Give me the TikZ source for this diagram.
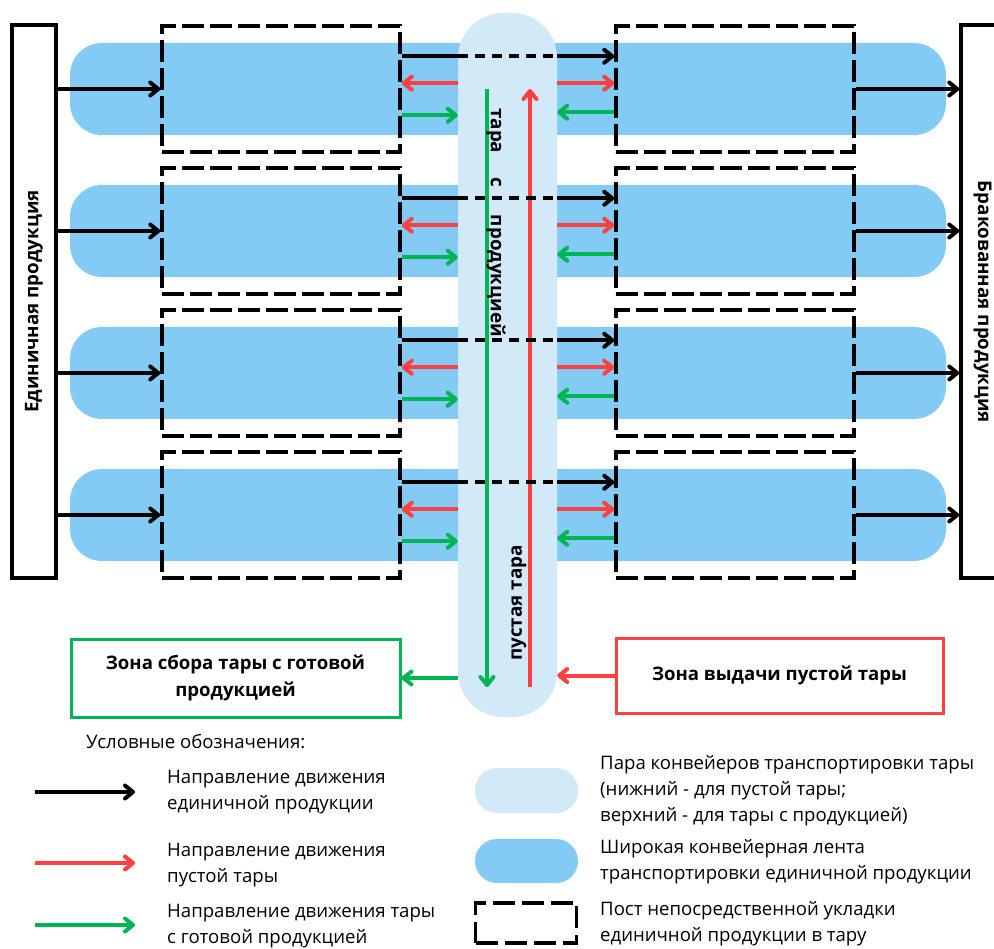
\documentclass[tikz,border=0pt]{standalone}
\usepackage{fontspec}
\setmainfont{Open Sans}
\usetikzlibrary{arrows.meta}
\definecolor{beltblue}{HTML}{83CBF5}
\definecolor{stripblue}{HTML}{D2E9F7}
\definecolor{myred}{HTML}{FF4040}
\definecolor{mygreen}{HTML}{00B554}
\begin{document}
\begin{tikzpicture}[x=1pt,y=-1pt,
  every node/.style={font=\fontsize{18.6pt}{26pt}\selectfont},
  arr/.style={line width=4pt,-{Straight Barb[length=8pt,width=13pt,round]}},
  blk/.style={arr,draw=black},
  redarr/.style={arr,draw=myred},
  grnarr/.style={arr,draw=mygreen},
  beltbox/.style={fill=beltblue, minimum width=876pt, minimum height=92pt, rounded corners=32pt, inner sep=0pt},
  stripbox/.style={fill=stripblue, minimum width=99pt, minimum height=704pt, rounded corners=45pt, inner sep=0pt},
  postbox/.style={draw, line width=3.5pt, dash pattern=on 22pt off 6pt, minimum width=238pt, minimum height=126pt, inner sep=0pt},
  sidebox/.style={draw, line width=3.5pt, minimum width=44pt, minimum height=553pt, inner sep=0pt},
  zone/.style={line width=3pt, inner sep=0pt, align=center, font=\fontsize{18.6pt}{26.5pt}\selectfont\bfseries},
  vlabel/.style={font=\fontsize{18.8pt}{20pt}\selectfont\bfseries, inner sep=0pt},
  legtext/.style={anchor=west, align=left, inner sep=0pt}
]
\useasboundingbox (0,0) rectangle (994,949);

% side boxes
\node[sidebox] (lbox) at (34,301.5) {};
\node[vlabel, rotate=90] (ltext) at (lbox.center) {Единичная продукция};
\node[sidebox] (rbox) at (983,301.5) {};
\node[vlabel, rotate=-90] (rtext) at (982.5,302) {Бракованная продукция};

% belts
\foreach \i/\y in {1/89,2/231,3/373,4/515} {
  \node[beltbox] (belt\i) at (508,\y) {};
}
% strip
\node[stripbox] (strip) at (507.5,365) {};

% posts
\foreach \i/\y in {1/89,2/231,3/373,4/515} {
  \node[postbox] (L\i) at (281,\y) {};
  \node[postbox] (R\i) at (735,\y) {};
}

% vertical conveyors
\coordinate (gtop) at (487,89);
\coordinate (gbot) at (487,687);
\coordinate (rbot) at (530,687);
\coordinate (rtop) at (530,89);
\draw[grnarr] (gtop) -- (gbot);
\draw[redarr] (rbot) -- (rtop);

\node[vlabel, rotate=-90] (tlabel) at (496,222.5) {тара\hspace{24pt}с\hspace{28pt}продукцией};
\node[vlabel, rotate=90] (plabel) at (519,603) {пустая тара};

% row arrows
\foreach \i in {1,2,3,4} {
  \draw[blk] (L\i.west -| lbox.east) -- (L\i.west);
  \draw[blk] (R\i.east) -- (R\i.east -| rbox.west);
  \draw[line width=4pt] ([yshift=-32pt]L\i.north east) -- ([yshift=-32pt]L\i.north east -| strip.west);
  \draw[line width=4pt, dash pattern=on 10pt off 7pt] ([yshift=-32pt]L\i.north east -| strip.west) -- ([yshift=-32pt]L\i.north east -| strip.east);
  \draw[blk] ([yshift=-32pt]L\i.north east -| strip.east) -- ([yshift=-32pt]R\i.north west);
  \draw[redarr] ([yshift=-59pt]L\i.north east -| strip.west) -- ([yshift=-59pt]L\i.north east);
  \draw[grnarr] ([yshift=-91pt]L\i.north east) -- ([yshift=-91pt]L\i.north east -| strip.west);
  \draw[redarr] ([yshift=-59pt]R\i.north west -| strip.east) -- ([yshift=-59pt]R\i.north west);
  \draw[grnarr] ([yshift=-88pt]R\i.north west) -- ([yshift=-88pt]R\i.north west -| strip.east);
}

% zones
\node[zone, draw=mygreen, minimum width=329pt, minimum height=78pt] (gz) at (235.5,678) {Зона сбора тары с готовой\\продукцией};
\node[zone, draw=myred, minimum width=327pt, minimum height=75pt] (rz) at (779.5,675.5) {Зона выдачи пустой тары};
\draw[grnarr] (gz.east -| strip.west) -- (gz.east);
\draw[redarr] (rz.west) -- (rz.west -| strip.east);

% legend
\node[legtext] (legtitle) at (86,742) {Условные обозначения:};
\coordinate (la1) at (35,792); \coordinate (lb1) at (135,792);
\coordinate (la2) at (35,863); \coordinate (lb2) at (135,863);
\coordinate (la3) at (35,925); \coordinate (lb3) at (135,925);
\draw[blk] (la1) -- (lb1);
\draw[redarr] (la2) -- (lb2);
\draw[grnarr] (la3) -- (lb3);
\node[legtext] (lt1) at (167,792) {Направление движения\\единичной продукции};
\node[legtext] (lt2) at (167,865) {Направление движения\\пустой тары};
\node[legtext] (lt3) at (167,926) {Направление движения тары\\с готовой продукцией};

\node[fill=stripblue, minimum width=103pt, minimum height=45pt, rounded corners=22pt, inner sep=0pt] (lg1) at (526.5,790.5) {};
\node[fill=beltblue, minimum width=103pt, minimum height=44pt, rounded corners=22pt, inner sep=0pt] (lg2) at (526.5,861) {};
\node[draw, line width=3.5pt, dash pattern=on 22pt off 7pt, minimum width=101pt, minimum height=40pt, inner sep=0pt] (lg3) at (526,923) {};
\node[legtext] (rt1) at (600,791) {Пара конвейеров транспортировки тары\\(нижний - для пустой тары;\\верхний - для тары с продукцией)};
\node[legtext] (rt2) at (600,861.5) {Широкая конвейерная лента\\транспортировки единичной продукции};
\node[legtext] (rt3) at (600,924) {Пост непосредственной укладки\\единичной продукции в тару};
\end{tikzpicture}
\end{document}
